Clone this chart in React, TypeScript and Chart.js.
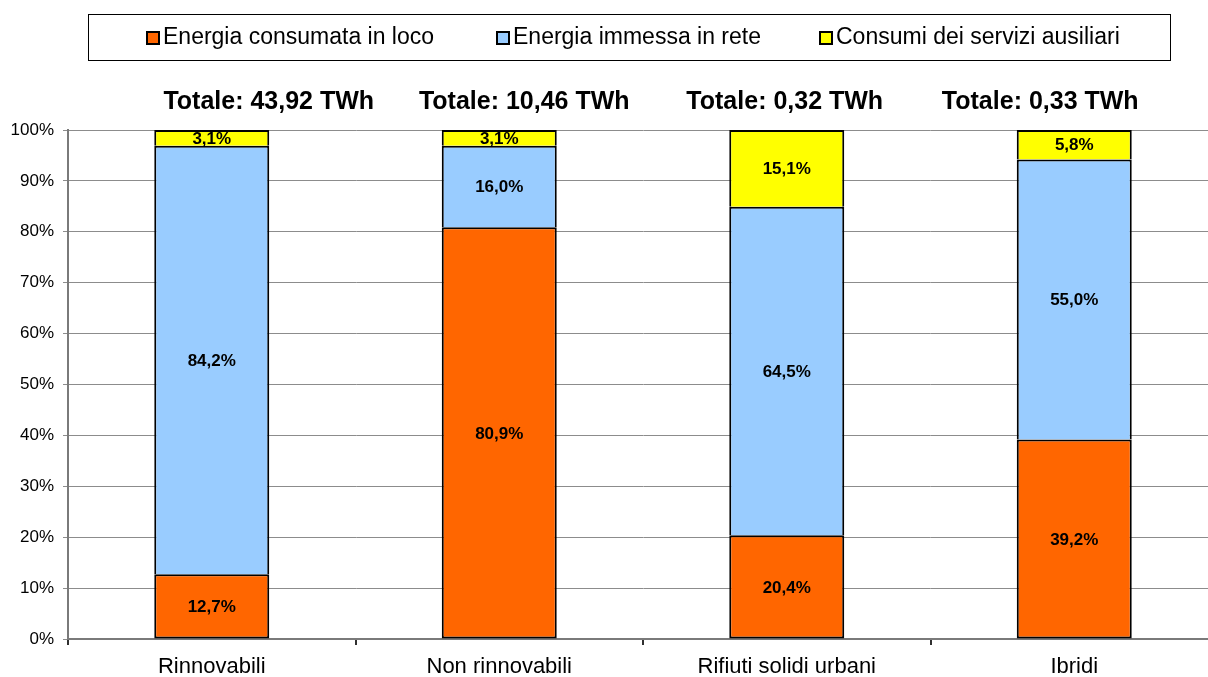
import React, { useEffect, useRef } from "react";
import { Chart, registerables } from "chart.js";

Chart.register(...registerables);

const categories = ["Rinnovabili", "Non rinnovabili", "Rifiuti solidi urbani", "Ibridi"];
const totals = ["Totale: 43,92 TWh", "Totale: 10,46 TWh", "Totale: 0,32 TWh", "Totale: 0,33 TWh"];
const consumataInLoco = [12.7, 80.9, 20.4, 39.2];
const immessaInRete = [84.2, 16.0, 64.5, 55.0];
const serviziAusiliari = [3.1, 3.1, 15.1, 5.8];
const seriesNames = ["Energia consumata in loco", "Energia immessa in rete", "Consumi dei servizi ausiliari"];
const seriesColors = ["#FF6600", "#99CCFF", "#FFFF00"];

// horizontal shift of the "Totale" text boxes relative to each bar centre (layout)
const totalsShift = [57, 25, -2, -34];

const FONT = "'Liberation Sans', Arial, sans-serif";

const fmt = (v: number) => v.toFixed(1).replace(".", ",") + "%";

const overlayPlugin = {
  id: "overlay",
  afterDatasetsDraw(chart: any) {
    const ctx = chart.ctx;
    ctx.save();
    // data labels
    ctx.font = `bold 17px ${FONT}`;
    ctx.fillStyle = "#000";
    ctx.textAlign = "center";
    ctx.textBaseline = "middle";
    chart.data.datasets.forEach((ds: any, di: number) => {
      const meta = chart.getDatasetMeta(di);
      meta.data.forEach((el: any, i: number) => {
        const y = (el.y + el.base) / 2;
        ctx.fillText(fmt(ds.data[i]), el.x, y + 1);
      });
    });
    // totals
    ctx.font = `bold 25px ${FONT}`;
    const meta0 = chart.getDatasetMeta(0);
    meta0.data.forEach((el: any, i: number) => {
      ctx.fillText(totals[i], el.x + totalsShift[i], 102);
    });
    // legend
    ctx.strokeStyle = "#000";
    ctx.lineWidth = 1;
    ctx.strokeRect(88.5, 14.5, 1082, 46);
    const xs = [147, 497, 820];
    ctx.font = `23px ${FONT}`;
    ctx.textAlign = "left";
    seriesNames.forEach((name, i) => {
      ctx.fillStyle = seriesColors[i];
      ctx.fillRect(xs[i], 32, 12, 12);
      ctx.strokeStyle = "#000";
      ctx.lineWidth = 2;
      ctx.strokeRect(xs[i], 32, 12, 12);
      ctx.fillStyle = "#000";
      ctx.fillText(name, xs[i] + 16, 38);
    });
    ctx.restore();
  },
};

export default function App() {
  const ref = useRef<HTMLCanvasElement>(null);
  useEffect(() => {
    if (!ref.current) return;
    const mk = (label: string, data: number[], color: string, skip: any) => ({
      label,
      data,
      backgroundColor: color,
      borderColor: "#000",
      borderWidth: 2,
      borderSkipped: skip,
      categoryPercentage: 1,
      barPercentage: 0.4,
    });
    const chart = new Chart(ref.current, {
      type: "bar",
      data: {
        labels: categories,
        datasets: [
          mk(seriesNames[0], consumataInLoco, seriesColors[0], false),
          mk(seriesNames[1], immessaInRete, seriesColors[1], "start"),
          mk(seriesNames[2], serviziAusiliari, seriesColors[2], "start"),
        ],
      },
      options: {
        responsive: false,
        devicePixelRatio: 1,
        animation: false,
        layout: { padding: { left: 8, right: 22, top: 130, bottom: 0 } },
        plugins: { legend: { display: false }, tooltip: { enabled: false }, title: { display: false } },
        scales: {
          x: {
            stacked: true,
            offset: true,
            afterFit: (s: any) => { s.height = 38; },
            grid: { offset: true, drawOnChartArea: false, drawTicks: true, tickLength: 6, color: "#303030", lineWidth: 2 },
            border: { color: "#7a7a7a", width: 2 },
            ticks: { color: "#000", font: { family: FONT, size: 22 }, padding: 9, maxRotation: 0 },
          },
          y: {
            stacked: true,
            min: 0,
            max: 100,
            afterFit: (s: any) => { s.width = 60; },
            grid: { color: "#8c8c8c", tickLength: 5, lineWidth: 1 },
            border: { color: "#7a7a7a", width: 2 },
            ticks: {
              stepSize: 10,
              color: "#000",
              padding: 9,
              font: { family: FONT, size: 17 },
              callback: (v: any) => v + "%",
            },
          },
        },
      },
      plugins: [overlayPlugin],
    } as any);
    return () => chart.destroy();
  }, []);
  return (
    <div style={{ position: "fixed", left: 0, top: 0, width: 1208, height: 677, overflow: "hidden", background: "#fff" }}>
      <canvas ref={ref} width={1240} height={677} style={{ width: 1240, height: 677, display: "block" }} />
    </div>
  );
}
